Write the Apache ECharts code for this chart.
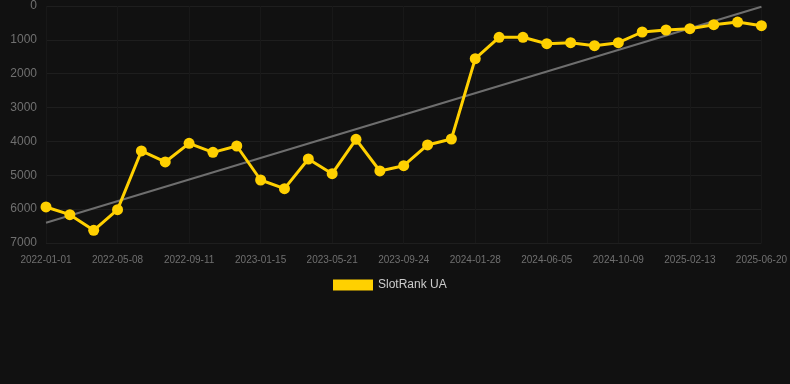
<!DOCTYPE html>
<html>
<head>
<meta charset="utf-8">
<script src="https://cdn.jsdelivr.net/npm/echarts@6/dist/echarts.min.js"></script>
<style>
  html, body { margin: 0; padding: 0; background: #111111; }
  #main { width: 790px; height: 384px; }
</style>
</head>
<body>
<div id="main"></div>
<script>
// 日期 (每3个显示一个标签)
var dates = [
  '2022-01-01', '2022-02-12', '2022-03-26', '2022-05-08', '2022-06-19', '2022-07-31',
  '2022-09-11', '2022-10-23', '2022-12-04', '2023-01-15', '2023-02-26', '2023-04-09',
  '2023-05-21', '2023-07-02', '2023-08-13', '2023-09-24', '2023-11-05', '2023-12-17',
  '2024-01-28', '2024-03-11', '2024-04-23', '2024-06-05', '2024-07-17', '2024-08-28',
  '2024-10-09', '2024-11-20', '2025-01-01', '2025-02-13', '2025-03-27', '2025-05-08',
  '2025-06-20'
];
// 排名
var rankUA = [
  5936, 6164, 6625, 6016, 4282, 4607, 4056, 4322, 4135, 5139,
  5395, 4519, 4952, 3938, 4873, 4716, 4105, 3928, 1556, 925,
  925, 1113, 1083, 1172, 1083, 768, 709, 669, 551, 473,
  581
];
// 趋势线 首尾两点
var trendStart = 6400;
var trendEnd = 20;
var trend = dates.map(function (d, i) {
  if (i === 0) return trendStart;
  if (i === dates.length - 1) return trendEnd;
  return null;
});
var yTicks = [0, 7000, 1000]; // min, max, interval

var myChart = echarts.init(document.getElementById('main'));
var option = {
  backgroundColor: '#111111',
  animation: false,
  grid: {
    left: 46,
    right: 28,
    top: 6,
    bottom: 141
  },
  legend: {
    data: ['SlotRank UA'],
    bottom: 88,
    left: 328,
    itemWidth: 40,
    itemHeight: 11,
    icon: 'rect',
    textStyle: { color: '#cccccc', fontSize: 12 }
  },
  xAxis: {
    type: 'category',
    boundaryGap: false,
    data: dates,
    axisLine: { show: false },
    axisTick: { show: false },
    axisLabel: {
      interval: 2,
      color: '#707070',
      fontSize: 10,
      margin: 12
    },
    splitLine: {
      show: true,
      interval: 2,
      lineStyle: { color: '#181818', width: 1 }
    }
  },
  yAxis: {
    type: 'value',
    inverse: true,
    min: yTicks[0],
    max: yTicks[1],
    interval: yTicks[2],
    axisLine: { show: false },
    axisTick: { show: false },
    axisLabel: {
      color: '#707070',
      fontSize: 12,
      margin: 9,
      formatter: function (v) { return String(v); }
    },
    splitLine: {
      lineStyle: { color: '#1e1e1e', width: 1 }
    }
  },
  series: [
    {
      name: 'trend',
      type: 'line',
      data: trend,
      connectNulls: true,
      symbol: 'none',
      silent: true,
      lineStyle: { color: '#6e6e6e', width: 2 },
      z: 1
    },
    {
      name: 'SlotRank UA',
      type: 'line',
      data: rankUA,
      symbol: 'circle',
      symbolSize: 11,
      itemStyle: { color: '#ffd000' },
      lineStyle: { color: '#ffd000', width: 3 },
      z: 2
    }
  ]
};
myChart.setOption(option);
</script>
</body>
</html>
